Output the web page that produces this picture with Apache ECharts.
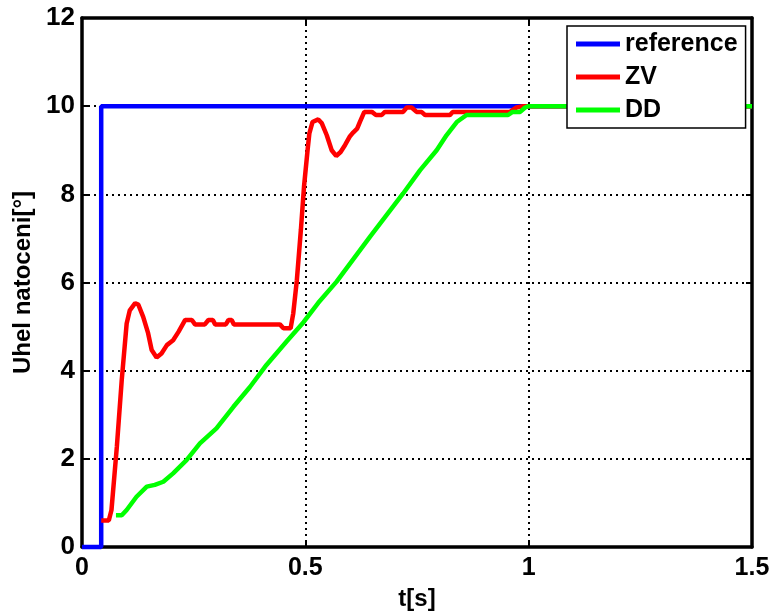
<!DOCTYPE html>
<html>
<head>
<meta charset="utf-8">
<script src="https://cdn.jsdelivr.net/npm/echarts@6/dist/echarts.min.js"></script>
<style>
  html, body { margin: 0; padding: 0; background: #fff; }
  #main { width: 772px; height: 611px; }
</style>
</head>
<body>
<div id="main"></div>
<script>
// time [s] and angle [deg]
var refT = [0, 0.043, 0.043, 1.5];
var refY = [0, 0, 10, 10];

var zvT = [0.043, 0.06, 0.066, 0.078, 0.089, 0.1, 0.107, 0.119, 0.126, 0.137, 0.148, 0.156, 0.167, 0.178, 0.19, 0.204, 0.216, 0.231, 0.246, 0.253, 0.275, 0.283, 0.293, 0.298, 0.322, 0.328, 0.335, 0.34, 0.443, 0.451, 0.467, 0.473, 0.481, 0.49, 0.497, 0.505, 0.509, 0.516, 0.529, 0.537, 0.548, 0.559, 0.569, 0.579, 0.589, 0.6, 0.607, 0.616, 0.622, 0.632, 0.649, 0.658, 0.671, 0.678, 0.719, 0.727, 0.738, 0.749, 0.76, 0.768, 0.824, 0.83, 0.958, 0.973, 0.988, 1.5];
var zvY = [0.6, 0.6, 0.84, 2.27, 3.79, 5.07, 5.37, 5.53, 5.5, 5.22, 4.85, 4.47, 4.3, 4.39, 4.58, 4.69, 4.88, 5.15, 5.15, 5.05, 5.05, 5.15, 5.15, 5.05, 5.05, 5.15, 5.15, 5.05, 5.05, 4.96, 4.96, 5.3, 6.05, 7.19, 8.17, 9.0, 9.38, 9.64, 9.7, 9.61, 9.34, 9.0, 8.87, 8.96, 9.12, 9.32, 9.4, 9.49, 9.64, 9.87, 9.87, 9.8, 9.8, 9.87, 9.87, 9.97, 9.97, 9.87, 9.87, 9.8, 9.8, 9.87, 9.87, 9.97, 10.0, 10.0];

var ddT = [0.076, 0.089, 0.1, 0.122, 0.145, 0.163, 0.182, 0.204, 0.234, 0.264, 0.301, 0.339, 0.376, 0.413, 0.458, 0.496, 0.529, 0.57, 0.645, 0.719, 0.757, 0.794, 0.816, 0.839, 0.861, 0.954, 0.964, 0.981, 0.992, 1.0, 1.5];
var ddY = [0.72, 0.72, 0.84, 1.14, 1.37, 1.41, 1.48, 1.67, 1.97, 2.35, 2.69, 3.18, 3.63, 4.13, 4.66, 5.1, 5.54, 6.02, 7.04, 8.02, 8.55, 9.0, 9.34, 9.64, 9.8, 9.8, 9.87, 9.87, 9.97, 10.0, 10.0];

var xTicks = [0, 0.5, 1, 1.5];
var yTicks = [0, 2, 4, 6, 8, 10, 12];

function pairs(t, y) {
    return t.map(function (v, i) { return [v, y[i]]; });
}

var font = 'Liberation Sans, Arial, sans-serif';
var chart = echarts.init(document.getElementById('main'));

var axisBase = {
    type: 'value',
    axisLine: { show: true, onZero: false, lineStyle: { color: '#000', width: 3.5 } },
    axisTick: { show: true, inside: true, length: 6, lineStyle: { color: '#000', width: 2 } }
};

var option = {
    animation: false,
    backgroundColor: '#fff',
    grid: { left: 82, right: 20, top: 18, bottom: 64, containLabel: false, outerBoundsMode: 'none' },
    legend: {
        orient: 'vertical',
        left: 567,
        top: 26,
        backgroundColor: '#fff',
        borderColor: '#000',
        borderWidth: 1.5,
        borderRadius: 0,
        padding: [3, 8, 3, 9],
        itemGap: 3,
        itemWidth: 44,
        itemHeight: 5,
        icon: 'rect',
        textStyle: { fontFamily: font, fontWeight: 'bold', fontSize: 25, color: '#000', lineHeight: 30 },
        data: ['reference', 'ZV', 'DD']
    },
    xAxis: [
        Object.assign({}, axisBase, {
            position: 'bottom',
            min: 0, max: 1.5, interval: 0.5,
            name: 't[s]',
            nameLocation: 'middle',
            nameGap: 40,
            nameTextStyle: { fontFamily: font, fontWeight: 'bold', fontSize: 24, color: '#000' },
            axisLabel: {
                fontFamily: font, fontWeight: 'bold', fontSize: 25, color: '#000', margin: 9,
                formatter: function (v) { return xTicks.indexOf(v) >= 0 ? String(v) : ''; }
            },
            splitLine: { show: true, lineStyle: { color: '#000', width: 2, type: [2, 4] } }
        }),
        Object.assign({}, axisBase, {
            position: 'top',
            min: 0, max: 1.5, interval: 0.5,
            axisLabel: { show: false },
            splitLine: { show: false }
        })
    ],
    yAxis: [
        Object.assign({}, axisBase, {
            position: 'left',
            min: 0, max: 12, interval: 2,
            name: 'Uhel natoceni[°]',
            nameLocation: 'middle',
            nameGap: 47,
            nameTextStyle: { fontFamily: font, fontWeight: 'bold', fontSize: 24, color: '#000' },
            axisLabel: {
                fontFamily: font, fontWeight: 'bold', fontSize: 26, color: '#000', margin: 7,
                formatter: function (v) { return yTicks.indexOf(v) >= 0 ? String(v) : ''; }
            },
            splitLine: { show: true, lineStyle: { color: '#000', width: 2, type: [2, 4] } }
        }),
        Object.assign({}, axisBase, {
            position: 'right',
            min: 0, max: 12, interval: 2,
            axisLabel: { show: false },
            splitLine: { show: false }
        })
    ],
    series: [
        {
            name: 'reference', type: 'line', showSymbol: false, clip: false,
            color: '#0000ff', lineStyle: { width: 4.5, color: '#0000ff' },
            data: pairs(refT, refY)
        },
        {
            name: 'ZV', type: 'line', showSymbol: false, clip: false,
            color: '#ff0000', lineStyle: { width: 4.5, color: '#ff0000' },
            data: pairs(zvT, zvY)
        },
        {
            name: 'DD', type: 'line', showSymbol: false, clip: false,
            color: '#00ff00', lineStyle: { width: 4.5, color: '#00ff00' },
            data: pairs(ddT, ddY)
        }
    ]
};

option && chart.setOption(option);
</script>
</body>
</html>
